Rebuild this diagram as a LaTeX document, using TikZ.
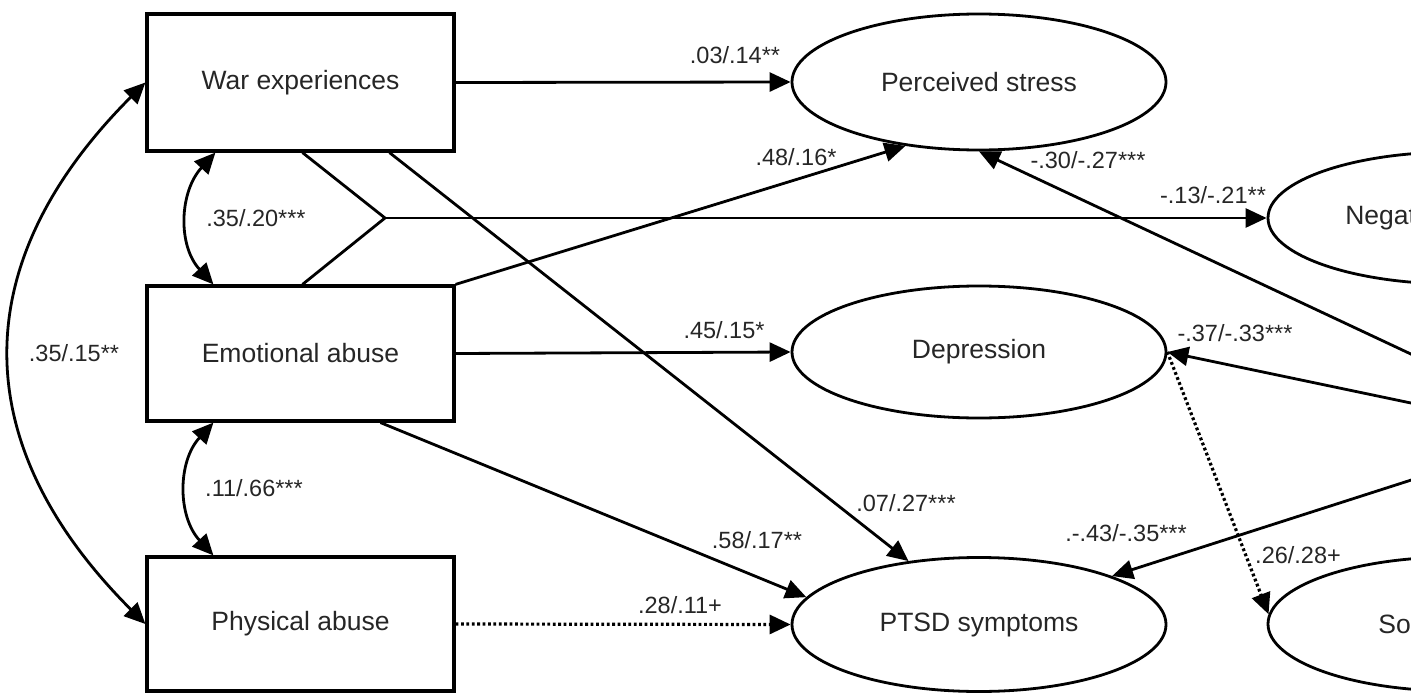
\documentclass[tikz,border=0pt]{standalone}
\usepackage{fontspec}
\setmainfont{Liberation Sans}
\usetikzlibrary{arrows.meta,shapes.geometric}
\newcommand\mainfs{\fontsize{26.5}{30}\selectfont}
\newcommand\labfs{\fontsize{23.5}{27}\selectfont}
\begin{document}
\begin{tikzpicture}[x=1pt,y=-1pt,
  box/.style={draw, line width=3.2pt, minimum width=307pt, minimum height=137pt, inner sep=0pt, font=\mainfs, text=black!85},
  ell/.style={draw, ellipse, line width=2.8pt, minimum width=374pt, minimum height=134pt, inner sep=0pt, font=\mainfs, text=black!85},
  conn/.style={line width=2.8pt},
  arr/.style={conn, -{Triangle[length=21pt,width=19pt]}},
  darr/.style={conn, {Triangle[length=21pt,width=19pt]}-{Triangle[length=21pt,width=19pt]}},
  dotline/.style={line width=3.2pt, dash pattern=on 2.8pt off 2.6pt},
  lab/.style={font=\labfs, inner sep=0pt, text=black!85}
]
\useasboundingbox (0,0) rectangle (1411,693);
\clip (0,0) rectangle (1411,693);

% exogenous boxes
\node[box] (war) at (300.5,82.5) {War experiences};
\node[box, minimum height=135pt] (emo) at (300.5,353.5) {Emotional abuse};
\node[box, minimum height=134pt] (phys) at (300.5,624) {Physical abuse};

% ellipses
\node[ell, minimum height=136pt] (ps) at (979,82) {Perceived stress};
\node[ell, minimum height=132pt] (dep) at (979,352) {Depression};
\node[ell] (ptsd) at (979,624.5) {PTSD symptoms};
\node[ell, minimum height=132pt] (neg) at (1455,218) {Negative emotions};
\node[ell] (so) at (1455,624) {Somatization};

% helper coordinates
\coordinate (v) at (385,218);
\coordinate (r1) at (1430,363);
\coordinate (r2) at (1430,407);
\coordinate (r3) at (1430,474);

% connectors
\draw[arr] (war.east) -- (ps.west);
\draw[arr] (emo.north east) -- (ps.221);
\draw[conn] ([xshift=2pt]war.south) -- (v) -- ([xshift=2pt]emo.north);
\draw[arr] (v) -- (neg.west);
\draw[arr] ([xshift=89pt]war.south) -- (ptsd.138);
\draw[arr] (emo.east) -- (dep.west);
\draw[arr] ([xshift=80pt]emo.south) -- (ptsd.171);
\draw[arr,dotline] (phys.east) -- (ptsd.west);
\draw[arr] (r1) -- (ps.south);
\draw[arr] (r2) -- (dep.east);
\draw[arr] (r3) -- (ptsd.20);
\draw[arr,dotline] (dep.east) -- (so.177);

% correlations
\draw[darr] ([xshift=70pt]war.south west) .. controls +(-36,39) and +(-36,-39) .. ([xshift=68pt]emo.north west);
\draw[darr] ([xshift=68pt]emo.south west) .. controls +(-36,39) and +(-36,-39) .. ([xshift=68pt]phys.north west);
\draw[darr] (war.west) .. controls +(-180,180) and +(-180,-180) .. (phys.west);

% labels
\node[lab] (l1) at (735,55) {.03/.14**};
\node[lab] (l2) at (796,157) {.48/.16*};
\node[lab] (l3) at (1213,195) {-.13/-.21**};
\node[lab] (l4) at (1088,160) {-.30/-.27***};
\node[lab] (l5) at (724,330) {.45/.15*};
\node[lab] (l6) at (906,503) {.07/.27***};
\node[lab] (l7) at (757,540) {.58/.17**};
\node[lab] (l8) at (680,605) {.28/.11+};
\node[lab] (l9) at (1235,333) {-.37/-.33***};
\node[lab] (l10) at (1126,533) {.-.43/-.35***};
\node[lab] (l11) at (1298,555) {.26/.28+};
\node[lab] (l12) at (74,353) {.35/.15**};
\node[lab] (l13) at (256,218) {.35/.20***};
\node[lab] (l14) at (254,488) {.11/.66***};
\end{tikzpicture}
\end{document}
